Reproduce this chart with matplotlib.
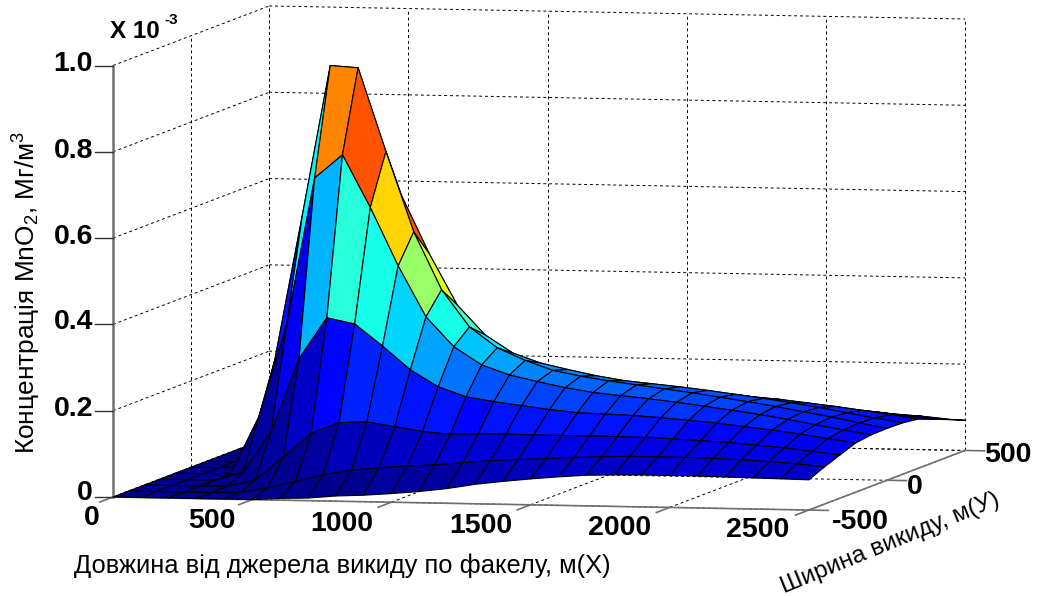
import numpy as np
import matplotlib
matplotlib.use('Agg')
import matplotlib.pyplot as plt
from matplotlib.colors import LinearSegmentedColormap
from mpl_toolkits.mplot3d import proj3d

plt.rcParams['font.family'] = ['Liberation Sans', 'DejaVu Sans']
plt.rcParams['mathtext.fontset'] = 'custom'
plt.rcParams['mathtext.rm'] = 'Liberation Sans'
plt.rcParams['mathtext.default'] = 'regular'

# --- data (concentration in units of 1e-3) ---
x_m = [0, 100, 200, 300, 400, 500, 600, 700, 800, 900, 1000, 1100, 1200,
       1300, 1400, 1500, 1600, 1700, 1800, 1900, 2000, 2100, 2200, 2300, 2400, 2500]
y_m = [-500, -400, -300, -200, -100, 0, 100, 200, 300, 400, 500]

z_y500 = [0, 0, 0, 0, 0, 0, .004, .006, .012, .015, .020, .026, .034,
          .045, .053, .060, .066, .071, .073, .074, .074, .074, .073, .072, .071, .070]
z_y400 = [0, 0, 0, 0, .002, .013, .029, .046, .058, .065, .070, .074, .080,
          .086, .090, .093, .097, .100, .102, .102, .102, .101, .099, .096, .092, .086]
z_y300 = [0, 0, 0, .001, .017, .071, .128, .153, .156, .146, .136, .131, .133,
          .134, .133, .133, .133, .133, .132, .130, .127, .124, .119, .114, .107, .100]
z_y200 = [0, 0, 0, .020, .115, .285, .381, .368, .318, .264, .226, .204, .194,
          .186, .178, .172, .170, .168, .164, .159, .154, .147, .140, .132, .123, .114]
z_y100 = [0, 0, .002, .135, .350, .690, .745, .624, .490, .373, .305, .264, .242,
          .228, .215, .205, .199, .193, .186, .178, .170, .161, .151, .140, .129, .119]
z_y0 = [0, 0, .005, .250, .590, .937, .933, .740, .555, .422, .337, .290, .262,
        .240, .228, .218, .210, .202, .194, .185, .176, .166, .155, .144, .132, .120]

x_ticks = [0, 500, 1000, 1500, 2000, 2500]
y_ticks = [-500, 0, 500]
z_ticks = [0, 0.2, 0.4, 0.6, 0.8, 1.0]

x_tick_labels = ['0', '500', '1000', '1500', '2000', '2500']
y_tick_labels = ['-500', '0', '500']
z_tick_labels = ['0', '0.2', '0.4', '0.6', '0.8', '1.0']

W, H = 1040, 596

# same stops as the old matlab jet, 64 levels
matlab_jet = LinearSegmentedColormap('matlab_jet', {
    'red': [(0, 0, 0), (0.375, 0, 0), (0.625, 1, 1), (0.875, 1, 1), (1, 0.5, 0.5)],
    'green': [(0, 0, 0), (0.125, 0, 0), (0.375, 1, 1), (0.625, 1, 1), (0.875, 0, 0), (1, 0, 0)],
    'blue': [(0, 0.5625, 0.5625), (0.125, 1, 1), (0.375, 1, 1), (0.625, 0, 0), (1, 0, 0)],
}, N=64)

fig = plt.figure(figsize=(W / 100, H / 100), dpi=100, facecolor='white')
ax = fig.add_axes([0.1, 0.1, 0.8, 0.8], projection='3d', computed_zorder=False)
ax.set_proj_type('ortho')
ax.view_init(elev=4.85, azim=-77.5)
ax.set_box_aspect((712, 721, 432.6))
ax.set_xlim(0, 2500)
ax.set_ylim(-500, 500)
ax.set_zlim(0, 1)
ax.set_axis_off()


def to_px(x, y, z):
    ax.apply_aspect()
    px, py, _ = proj3d.proj_transform(x, y, z, ax.get_proj())
    return ax.transData.transform((px, py))


# place the axes so the box corners land where they are in the picture
for _ in range(3):
    a = to_px(0, -500, 0)
    c = to_px(2500, 500, 0)
    scale = np.hypot(965 - 113, 47) / np.hypot(*(c - a))
    pos = ax.get_position(original=True)
    new_w = pos.width * scale
    new_h = pos.height * scale
    ax.set_position([pos.x0 + pos.width / 2 - new_w / 2, pos.y0 + pos.height / 2 - new_h / 2, new_w, new_h])
    a = to_px(0, -500, 0)
    pos = ax.get_position(original=True)
    ax.set_position([pos.x0 + (113 - a[0]) / W, pos.y0 + (H - 497 - a[1]) / H, pos.width, pos.height])

# --- walls and floor ---
grid_kw = dict(color='black', linewidth=0.7, linestyle=(0, (3, 3)), zorder=1)
for xt in x_ticks:
    ax.plot([xt, xt], [-500, 500], [0, 0], **grid_kw)
    ax.plot([xt, xt], [500, 500], [0, 1], **grid_kw)
for yt in y_ticks:
    ax.plot([0, 2500], [yt, yt], [0, 0], **grid_kw)
    ax.plot([0, 0], [yt, yt], [0, 1], **grid_kw)
for zt in z_ticks:
    ax.plot([0, 0], [-500, 500], [zt, zt], **grid_kw)
    ax.plot([0, 2500], [500, 500], [zt, zt], **grid_kw)

# --- axis lines ---
axis_kw = dict(color='#707070', linewidth=1.2, zorder=1.5)
ax.plot([0, 0], [-500, -500], [0, 1], **dict(axis_kw, linewidth=1.8))
ax.plot([0, 2500], [-500, -500], [0, 0], **axis_kw)
ax.plot([2500, 2500], [-500, 500], [0, 0], **axis_kw)
for xt in x_ticks:
    ax.plot([xt, xt], [-585, -500], [0, 0], **axis_kw)
for yt in y_ticks:
    ax.plot([2500, 2570], [yt, yt], [0, 0], **axis_kw)
for zt in z_ticks:
    p = to_px(0, -500, zt)
    fig.add_artist(plt.Line2D([(p[0] - 18) / W, p[0] / W], [p[1] / H, p[1] / H], color='#333333', linewidth=1.0))

# --- surface ---
half = [z_y500, z_y400, z_y300, z_y200, z_y100, z_y0]
Z = np.array(half + half[-2::-1])
X, Y = np.meshgrid(x_m, y_m)
colors = matlab_jet(Z / Z.max())
ax.plot_surface(X, Y, Z, facecolors=colors, rstride=1, cstride=1, shade=False,
                edgecolor='black', linewidth=0.8, antialiased=True, zorder=3)


def px_text(x, y, s, **kw):
    kw.setdefault('ha', 'center')
    kw.setdefault('va', 'center')
    fig.text(x / W, 1 - y / H, s, **kw)


# --- tick labels ---
bold = dict(fontsize=20.5, fontweight='bold')
for lab, yp in zip(z_tick_labels, [493, 409, 322, 237, 151, 64]):
    px_text(93, yp, lab, ha='right', **bold)
for lab, xp, yp in zip(x_tick_labels, [92, 212, 342, 481, 620, 758], [518, 521, 524, 526, 528, 530]):
    px_text(xp, yp, lab, **bold)
for lab, xp, yp in zip(y_tick_labels, [860, 915, 1008], [522, 487, 455]):
    px_text(xp, yp, lab, **bold)

px_text(110, 32, 'X 10', ha='left', fontsize=17.5, fontweight='bold')
px_text(164, 20, '-3', ha='left', fontsize=11, fontweight='bold')

# --- axis titles ---
px_text(342, 566, 'Довжина від джерела викиду по факелу, м(Х)', fontsize=18.4)
px_text(27, 292, 'Концентрація MnO$_2$, Мг/м$^3$', fontsize=18.9, rotation=90)
px_text(890, 543, 'Ширина викиду, м(У)', fontsize=17.6, rotation=22.3, rotation_mode='anchor')

fig.savefig('out.png', dpi=100)
